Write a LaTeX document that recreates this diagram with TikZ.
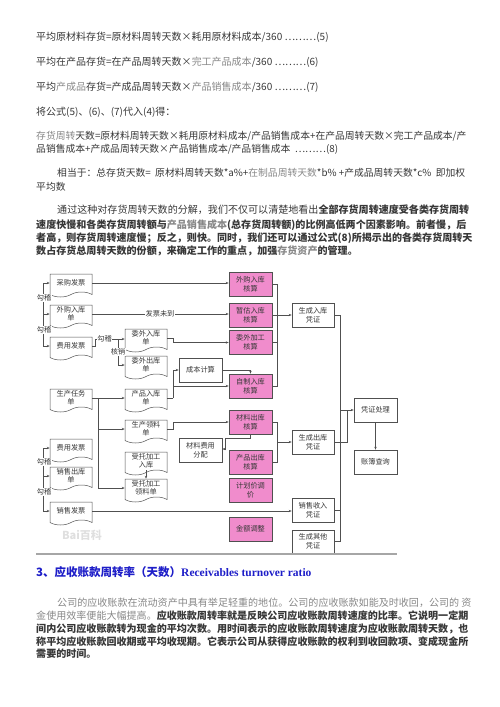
\documentclass[tikz,border=0pt]{standalone}
\usepackage{fontspec}
\setmainfont{Noto Sans CJK SC}
\newfontfamily\latinserif{Liberation Serif}
\usetikzlibrary{shapes.symbols,arrows.meta}
\definecolor{pinkbox}{RGB}{240,140,204}
\definecolor{txt}{RGB}{55,55,55}
\definecolor{ltxt}{RGB}{135,135,135}
\definecolor{ttl}{RGB}{30,30,200}
\definecolor{ln}{RGB}{80,80,80}
\newcommand{\lt}[1]{\textcolor{ltxt}{#1}}
\tikzset{
 doc/.style={tape, tape bend top=none, tape bend bottom=in and out, tape bend height=5pt,
   draw=ln, line width=0.5pt, fill=white, minimum width=42pt, minimum height=23pt,
   inner sep=1pt, font=\fontsize{7.2}{8.2}\selectfont, align=center, text=txt},
 box/.style={rectangle, draw=ln, line width=0.6pt, fill=white, minimum width=43pt,
   minimum height=24pt, inner sep=1pt, font=\fontsize{7.2}{8.7}\selectfont, align=center, text=txt},
 pbox/.style={box, fill=pinkbox},
 conn/.style={draw=ln, line width=0.5pt},
 arr/.style={conn, -{Stealth[length=3pt,width=2.4pt]}},
 lbl/.style={fill=white, inner sep=0.5pt, font=\fontsize{7.2}{8}\selectfont, text=txt},
 tl/.style={anchor=west, inner sep=0pt, font=\fontsize{10}{12}\selectfont, text=txt},
 tn/.style={anchor=west, inner sep=0pt, font=\fontsize{9.8}{12}\selectfont, text=txt},
 pl/.style={anchor=west, inner sep=0pt, font=\fontsize{10.05}{12}\selectfont, text=txt},
}
\begin{document}
\begin{tikzpicture}[x=1pt,y=-1pt]
\useasboundingbox (0,0) rectangle (500,707);
% ---------- top text ----------
\node[tl] (t1) at (36,37) {平均原材料存货=原材料周转天数×耗用原材料成本/360 ………(5)};
\node[tl] (t2) at (36,62) {平均在产品存货=在产品周转天数×\lt{完工产品成本}/360 ………(6)};
\node[tl] (t3) at (36,87) {平均\lt{产成品}存货=产成品周转天数×\lt{产品销售成本}/360 ………(7)};
\node[tl] (t4) at (36,112) {将公式(5)、(6)、(7)代入(4)得：};
\node[tn] (t5) at (36,136) {\lt{存货周转}天数=原材料周转天数×耗用原材料成本/产品销售成本+在产品周转天数×完工产品成本/产};
\node[tn] (t6) at (36,149) {品销售成本+产成品周转天数×产品销售成本/产品销售成本 \ ………(8)};
\node[tn] (t7) at (57,173) {相当于：总存货天数= \ 原材料周转天数*a\%+\lt{在制品周转天数}*b\% +产成品周转天数*c\% \ 即加权};
\node[tn] (t8) at (36,187) {平均数};
\node[pl] (t9) at (57,210) {通过这种对存货周转天数的分解，我们不仅可以清楚地看出\textbf{全部存货周转速度受各类存货周转}};
\node[pl] (t10) at (36,225) {\textbf{速度快慢和各类存货周转额与\lt{产品销售成本}(总存货周转额)的比例高低两个因素影响。前者慢，后}};
\node[pl] (t11) at (36,238) {\textbf{者高，则存货周转速度慢；反之，则快。同时，我们还可以通过公式(8)所揭示出的各类存货周转天}};
\node[pl] (t12) at (36,251) {\textbf{数占存货总周转天数的份额，来确定工作的重点，加强\lt{存货资产}的管理。}};
% ---------- diagram: left documents ----------
\node[doc] (d1) at (71,283) {采购发票};
\node[doc] (d2) at (71,314) {外购入库\\单};
\node[doc] (d3) at (71,346) {费用发票};
\node[doc] (d4) at (71,398) {生产任务\\单};
\node[doc] (d5) at (71,448) {费用发票};
\node[doc] (d6) at (71,476) {销售出库\\单};
\node[doc] (d7) at (71,511) {销售发票};
% second column documents
\node[doc] (e1) at (146,338) {委外入库\\单};
\node[doc] (e2) at (146,365) {委外出库\\单};
\node[doc] (e3) at (146,398) {产品入库\\单};
\node[doc] (e4) at (146,429) {生产领料\\单};
\node[doc] (e5) at (146,461) {受托加工\\入库};
\node[doc] (e6) at (146,488) {受托加工\\领料单};
% plain boxes
\node[box] (c1) at (200.5,370) {成本计算};
\node[box] (c2) at (200.5,450) {材料费用\\分配};
% pink boxes
\node[pbox] (p1) at (250.5,284) {外购入库\\核算};
\node[pbox] (p2) at (250.5,315) {暂估入库\\核算};
\node[pbox] (p3) at (250.5,342.5) {委外加工\\核算};
\node[pbox] (p4) at (250.5,386) {自制入库\\核算};
\node[pbox] (p5) at (250.5,422) {材料出库\\核算};
\node[pbox] (p6) at (250.5,462) {产品出库\\核算};
\node[pbox] (p7) at (250.5,490) {计划价调\\价};
\node[pbox] (p8) at (250.5,529) {金额调整};
% vouchers
\node[box,minimum width=42pt] (r1) at (313,315) {生成入库\\凭证};
\node[box,minimum width=42pt] (r2) at (313,442) {生成出库\\凭证};
\node[box,minimum width=42pt] (r3) at (313,510) {销售收入\\凭证};
\node[box,minimum width=42pt,minimum height=23pt] (r4) at (313,541.5) {生成其他\\凭证};
\node[box] (v1) at (375.5,410) {凭证处理};
\node[box] (v2) at (375.5,462) {账簿查询};
% ---------- connectors ----------
% left bracket group 1
\coordinate (b1t) at (43,283);
\coordinate (b1b) at (43,346);
\draw[conn] (b1t) -- (b1b);
\draw[arr] (b1t) -- (d1.west |- b1t);
\draw[arr] (43,314) -- (d2.west);
\draw[arr] (b1b) -- (d3.west |- b1b);
\node[lbl] (g1) at (44,298) {勾稽};
\node[lbl] (g2) at (44,330) {勾稽};
% left bracket group 2
\coordinate (b2t) at (43,448);
\coordinate (b2b) at (43,511);
\draw[conn] (b2t) -- (b2b);
\draw[arr] (b2t) -- (d5.west |- b2t);
\draw[arr] (43,476) -- (d6.west);
\draw[arr] (b2b) -- (d7.west |- b2b);
\node[lbl] (g4) at (44,462) {勾稽};
\node[lbl] (g5) at (44,492) {勾稽};
% documents to pink boxes
\draw[arr] (d1.east) -- (p1.west |- d1.east);
\draw[arr] (d2.east) -- (p2.west |- d2.east);
\node[lbl] (fp) at (160,314) {发票未到};
% 费用发票 -> 勾稽 -> 委外
\node[lbl] (g3) at (104.5,339) {勾稽};
\coordinate (j1) at (118,339);
\coordinate (j2) at (118,365);
\draw[conn] (d3.east) -- ++(3,0) |- (g3.west);
\draw[conn] (g3.east) -- (j1) -- (j2);
\draw[arr] (j1) -- (e1.west |- j1);
\draw[arr] (j2) -- (e2.west |- j2);
\node[lbl] (hx) at (118,352) {核销};
\draw[arr] (e1.east) -- ++(6,0) |- (p3.west);
% 生产任务单 bus
\coordinate (k1) at (98,398);
\coordinate (k2) at (98,488);
\draw[conn] (d4.east) -- (k1) -- (k2);
\draw[arr] (k1) -- (e3.west);
\draw[arr] (98,429) -- (e4.west);
\draw[arr] (k2) -- (e6.west);
% 产品入库单 -> 成本计算 / 自制入库核算
\coordinate (m1) at (173,398);
\draw[conn] (e3.east) -- (m1);
\draw[arr] (m1) |- (c1.west);
\draw[arr] (173,386) -- (p4.west);
\draw[arr] (c1.east) -| (p4.north);
% 生产领料单 -> 材料出库核算
\draw[arr] (e4.east) -- ++(6,0) |- (p5.west);
% 材料出库核算 -> 材料费用分配
\draw[arr] (p5.south) -- ++(0,4) -| (225,449) -- (c2.east |- 0,449);
% 受托加工入库 -> 领料单
\draw[arr] (e5.south) -- (e6.north);
% 销售发票 -> 销售收入凭证
\draw[arr] (d7.east) -- (r3.west |- d7.east);
% pink bus 1
\coordinate (q1) at (277,284);
\coordinate (q2) at (277,386);
\draw[conn] (p1.east) -- (q1) -- (q2) -- (p4.east);
\draw[conn] (p2.east) -- (277,315);
\draw[conn] (p3.east) -- (277,342.5);
\draw[arr] (277,315) -- (r1.west);
% pink bus 2
\coordinate (q3) at (277,422);
\coordinate (q4) at (277,462);
\draw[conn] (p5.east) -- (q3) -- (q4) -- (p6.east);
\draw[arr] (277,442) -- (r2.west);
% voucher bus
\coordinate (s1) at (340,315);
\coordinate (s2) at (340,541.5);
\draw[conn] (r1.east) -- (s1) -- (s2) -- (r4.east);
\draw[conn] (r3.east) -- (340,510);
\draw[conn] (r2.east) -- (347,442) -- (347,410);
\draw[arr] (340,410) -- (v1.west);
\draw[arr] (v1.south) -- (v2.north);
% bottom rule and watermark
\draw[line width=1.6pt, color=gray!70] (36,554) -- (397,554);
\node[inner sep=0pt, text=gray!25, font=\fontsize{11}{12}\selectfont\bfseries] (wm) at (82,535) {Bai百科};
% ---------- title ----------
\node[anchor=west, inner sep=0pt, text=ttl, font=\fontsize{11.5}{13}\selectfont\bfseries] (ttl) at (36,572) {3、应收账款周转率（天数）{\latinserif\bfseries Receivables turnover ratio}};
% ---------- bottom paragraph ----------
\node[pl] (u1) at (57,603) {\lt{公司的应收账款在流动资产中具有举足轻重的地位。公司的应收账款如能及时收回，公司的 资}};
\node[pl] (u2) at (36,616) {\lt{金使用效率便能大幅提高。}\textbf{应收账款周转率就是反映公司应收账款周转速度的比率。它说明一定期}};
\node[pl] (u3) at (36,629) {\textbf{间内公司应收账款转为现金的平均次数。用时间表示的应收账款周转速度为应收账款周转天数，也}};
\node[pl] (u4) at (36,642) {\textbf{称平均应收账款回收期或平均收现期。它表示公司从获得应收账款的权利到收回款项、变成现金所}};
\node[pl] (u5) at (36,654) {\textbf{需要的时间。}};
\end{tikzpicture}
\end{document}
